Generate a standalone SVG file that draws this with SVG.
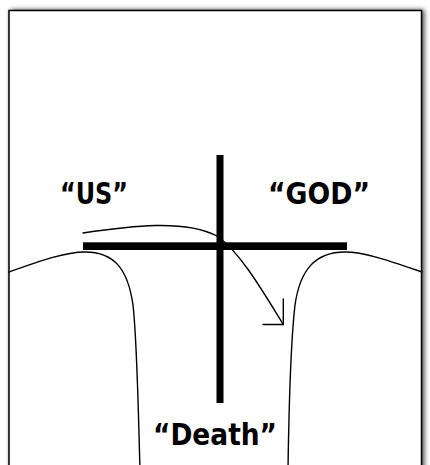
<svg xmlns="http://www.w3.org/2000/svg" width="430" height="465" viewBox="0 0 430 465">
  <defs>
    <filter id="shadow" x="-5%" y="-5%" width="110%" height="110%">
      <feDropShadow dx="2" dy="0" stdDeviation="2.5" flood-color="#000" flood-opacity="0.75"/>
    </filter>
  </defs>
  <style>
    .lbl { font-family: "DejaVu Sans", "Liberation Sans", sans-serif; font-weight: bold; font-size: 30px; fill: #000; text-anchor: middle; }
    .bar { fill: #000; }
    .curve { fill: none; stroke: #000; stroke-width: 1.4; stroke-linecap: round; }
  </style>
  <rect width="430" height="465" fill="#fff"/>
  <rect id="frame" x="9" y="10.5" width="412.5" height="480" fill="#fff" stroke="#000" stroke-width="1.5" filter="url(#shadow)"/>

  <g id="terrain">
    <path class="curve" d="M 9,272 C 40,261 65,252 85,252 C 115,252 128,270 133,305 C 137,340 138,400 140,470"/>
    <path class="curve" d="M 422,272 C 390,261 365,252 345,252 C 315,252 300,270 295,305 C 291,340 289,400 288,470"/>
  </g>

  <g id="cross">
    <rect class="bar" x="216.5" y="155" width="7" height="248"/>
    <rect class="bar" x="83" y="242.3" width="264" height="7.7"/>
  </g>

  <g id="connectors">
    <path class="curve" d="M 83,233 C 130,226 185,219 217,236 C 240,252 262,290 283,324"/>
    <polyline class="curve" points="283.3,299 283.3,324.5 263,324.5"/>
  </g>

  <g id="label-us"><text class="lbl" x="94" y="204" textLength="68" lengthAdjust="spacingAndGlyphs">“US”</text></g>
  <g id="label-god"><text class="lbl" x="319" y="204" textLength="102" lengthAdjust="spacingAndGlyphs">“GOD”</text></g>
  <g id="label-death"><text class="lbl" x="215" y="445" textLength="124" lengthAdjust="spacingAndGlyphs">“Death”</text></g>
</svg>
